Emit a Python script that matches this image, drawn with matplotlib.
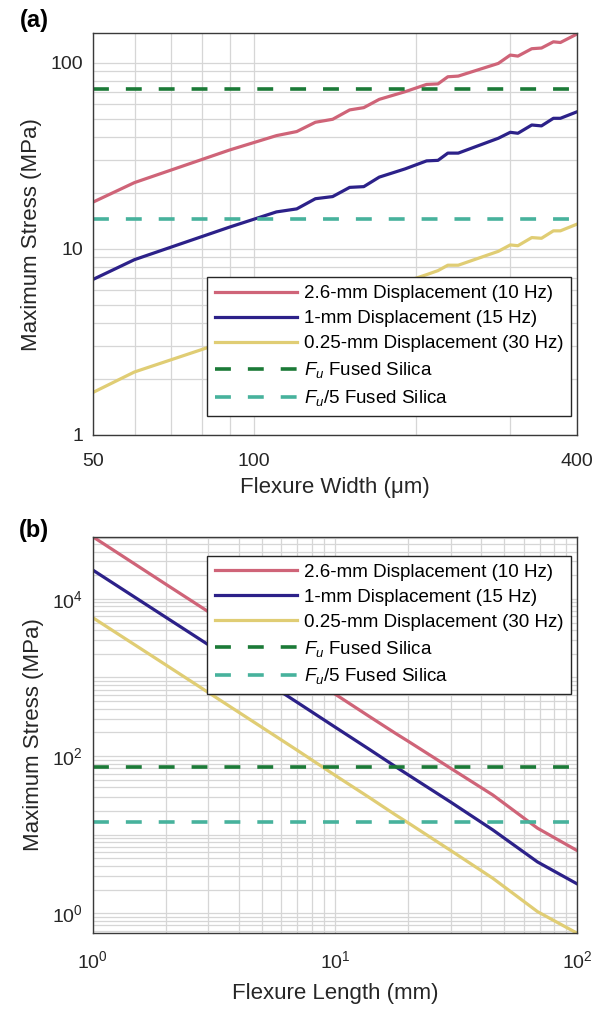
import numpy as np
import matplotlib
matplotlib.use("Agg")
import matplotlib.pyplot as plt
from matplotlib.ticker import FixedLocator, NullFormatter, LogLocator, LogFormatterMathtext

plt.rcParams['font.family'] = ['Liberation Sans', 'DejaVu Sans']
plt.rcParams['mathtext.fontset'] = 'custom'
plt.rcParams['mathtext.rm'] = 'Liberation Sans'
plt.rcParams['mathtext.it'] = 'Liberation Sans:italic'
plt.rcParams['mathtext.bf'] = 'Liberation Sans:bold'

##################### data

# (a) stress vs flexure width
width_um   = [50, 59.8, 90, 110, 120, 130, 140, 150.6, 160, 171, 191, 209.5, 220,
              229.5, 240, 285, 300, 310, 329, 343, 361, 372, 400]
stress_26  = [17.8, 22.7, 34.0, 40.6, 42.7, 47.9, 49.7, 55.8, 57.4, 63.6, 69.9, 76.5, 77.0,
              84.1, 84.8, 99.2, 110, 108.6, 119, 120, 129.6, 128.5, 143]
stress_1   = [6.84, 8.75, 13.1, 15.8, 16.4, 18.6, 19.1, 21.4, 21.6, 24.3, 26.9, 29.7, 29.9,
              32.7, 32.7, 39.3, 42.3, 41.8, 46.3, 45.8, 50.3, 50.3, 54.6]
stress_025 = [1.69, 2.18, 3.23, 3.86, 4.05, 4.55, 4.72, 5.30, 5.45, 6.05, 6.65, 7.27, 7.64,
              8.17, 8.17, 9.7, 10.5, 10.4, 11.5, 11.4, 12.5, 12.5, 13.6]

# (b) stress vs flexure length
length_mm   = [1, 2, 4, 7, 10, 13.9, 17.7, 20, 30, 44.8, 68.5, 100]
stress_26b  = [61800, 15400, 3870, 1260, 615, 317, 196, 155, 70, 32.0, 12.1, 6.26]
stress_1b   = [23300, 5850, 1470, 480, 234, 121, 74, 58, 26, 11.5, 4.5, 2.36]
stress_025b = [5770, 1450, 362, 118, 57, 29.5, 18.0, 14.2, 6.3, 2.79, 1.05, 0.556]

F_u = 72.5   # fused silica (MPa)

labels = ['2.6-mm Displacement (10 Hz)', '1-mm Displacement (15 Hz)',
          '0.25-mm Displacement (30 Hz)', r'$F_u$ Fused Silica', r'$F_u$/5 Fused Silica']
colors = ['#cf6478', '#2c2189', '#e0cd74', '#1b7a37', '#47b29c']

##################### figure

fig = plt.figure(figsize=(6.1, 10.09), dpi=100)
ax_a = fig.add_axes([0.152, 0.5689, 0.7944, 0.3981])
ax_b = fig.add_axes([0.152, 0.0750, 0.7944, 0.3931])


def style(ax, xpad):
    ax.grid(True, which='both', color='#d6d6d6', lw=0.9)
    ax.set_axisbelow(True)
    for sp in ax.spines.values():
        sp.set_color('#3a3a3a')
        sp.set_linewidth(1.0)
    ax.tick_params(which='both', length=0, labelsize=14, colors='#262626')
    ax.tick_params(axis='x', which='major', pad=xpad)
    ax.tick_params(axis='y', which='major', pad=7)


def draw(ax, x, ys, xlim):
    for y, c, lab in zip(ys, colors[:3], labels[:3]):
        ax.plot(x, y, color=c, lw=2.3, label=lab)
    ax.plot(xlim, [F_u, F_u], color=colors[3], lw=2.6, dashes=(4.4, 4.7), label=labels[3])
    ax.plot(xlim, [F_u / 5, F_u / 5], color=colors[4], lw=2.6, dashes=(4.4, 4.7), label=labels[4])


def add_legend(ax, loc, anchor):
    ax.legend(loc=loc, bbox_to_anchor=anchor, fontsize=13.5,
              handlelength=4.4, handletextpad=0.35, labelspacing=0.42, borderpad=0.42,
              borderaxespad=0, fancybox=False, framealpha=1, edgecolor='#262626')


# ---- (a)
draw(ax_a, width_um, [stress_26, stress_1, stress_025], [50, 400])
ax_a.set_xscale('log')
ax_a.set_yscale('log')
ax_a.set_xlim(50, 400)
ax_a.set_ylim(1, 144)
ax_a.xaxis.set_major_locator(FixedLocator([50, 100, 400]))
ax_a.xaxis.set_minor_locator(FixedLocator([60, 70, 80, 90, 200, 300]))
ax_a.set_xticklabels(['50', '100', '400'])
ax_a.xaxis.set_minor_formatter(NullFormatter())
ax_a.yaxis.set_major_locator(FixedLocator([1, 10, 100]))
ax_a.yaxis.set_minor_locator(FixedLocator([2, 3, 4, 5, 6, 7, 8, 9, 20, 30, 40, 50, 60, 70, 80, 90]))
ax_a.set_yticklabels(['1', '10', '100'])
ax_a.yaxis.set_minor_formatter(NullFormatter())
style(ax_a, 13)
ax_a.set_xlabel('Flexure Width (μm)', fontsize=16, color='#262626', labelpad=5)
ax_a.set_ylabel('Maximum Stress (MPa)', fontsize=16, color='#262626', labelpad=6)
add_legend(ax_a, 'lower left', (0.236, 0.047))

# ---- (b)
draw(ax_b, length_mm, [stress_26b, stress_1b, stress_025b], [1, 100])
ax_b.set_xscale('log')
ax_b.set_yscale('log')
ax_b.set_xlim(1, 100)
ax_b.set_ylim(stress_025b[-1], stress_26b[0])
ax_b.xaxis.set_major_locator(LogLocator(base=10, numticks=10))
ax_b.xaxis.set_minor_locator(LogLocator(base=10, subs=np.arange(2, 10), numticks=100))
ax_b.xaxis.set_major_formatter(LogFormatterMathtext())
ax_b.xaxis.set_minor_formatter(NullFormatter())
ax_b.yaxis.set_major_locator(FixedLocator([1, 100, 10000]))
ax_b.yaxis.set_minor_locator(LogLocator(base=10, subs=np.arange(1, 10), numticks=100))
ax_b.yaxis.set_major_formatter(LogFormatterMathtext())
ax_b.yaxis.set_minor_formatter(NullFormatter())
style(ax_b, 12)
ax_b.set_xlabel('Flexure Length (mm)', fontsize=16, color='#262626', labelpad=8)
ax_b.set_ylabel('Maximum Stress (MPa)', fontsize=16, color='#262626', labelpad=6)
add_legend(ax_b, 'upper left', (0.236, 0.952))

fig.text(34 / 610, 1 - 21 / 1009, '(a)', fontsize=17, fontweight='bold', ha='center', va='center')
fig.text(34 / 610, 1 - 531 / 1009, '(b)', fontsize=17, fontweight='bold', ha='center', va='center')

fig.savefig('out.png', dpi=100)
